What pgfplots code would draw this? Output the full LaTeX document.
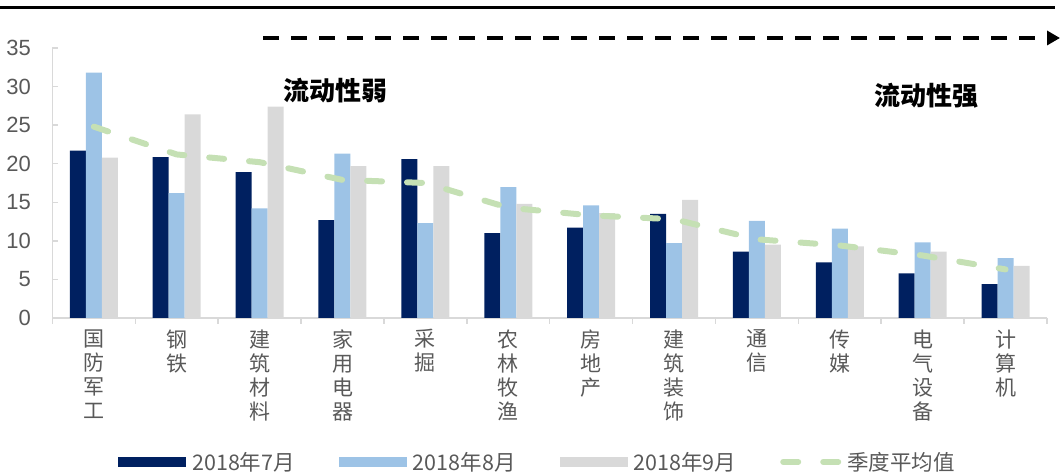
\documentclass[border=0pt]{standalone}
\usepackage{fontspec}
\usepackage{pgfplots}
\usepackage{pgfplotstable}
\pgfplotsset{compat=1.18}
\usetikzlibrary{arrows.meta}
\setmainfont{Liberation Sans}
\newfontfamily\cjk{Noto Sans CJK SC}
\definecolor{navy}{HTML}{002060}
\definecolor{lblue}{HTML}{9DC3E6}
\definecolor{lgrey}{HTML}{D9D9D9}
\definecolor{lgreen}{HTML}{C5E0B4}
\definecolor{axgrey}{HTML}{D9D9D9}
\definecolor{txtgrey}{HTML}{595959}

\pgfplotstableread{
x jul aug sep avg
0 21.7 31.8 20.8 24.8
1 20.85 16.2 26.4 21.2
2 18.9 14.2 27.4 20.2
3 12.7 21.3 19.7 17.9
4 20.6 12.3 19.7 17.5
5 11.0 16.95 14.8 14.3
6 11.7 14.6 13.6 13.3
7 13.5 9.7 15.3 12.8
8 8.6 12.6 9.5 10.2
9 7.2 11.6 9.3 9.4
10 5.8 9.8 8.6 8.1
11 4.4 7.75 6.75 6.3
}\data

\begin{document}
\begin{tikzpicture}[x=1pt,y=1pt]
\path[use as bounding box] (0,0) rectangle (1060,473);
\draw[line width=3pt] (0,465.6) -- (1055,465.6);
\draw[line width=4pt, dash pattern=on 16pt off 12pt, -{Triangle[length=13pt,width=14pt]}] (263,435) -- (1060,435);
\node[font=\cjk\bfseries\fontsize{26}{30}\selectfont] at (335,382) {流动性弱};
\node[font=\cjk\bfseries\fontsize{26}{30}\selectfont] at (926,377) {流动性强};
\begin{axis}[
  at={(52.4pt,155pt)}, anchor=south west,
  width=994.6pt, height=270pt, scale only axis,
  xmin=-0.5, xmax=11.5, ymin=0, ymax=35,
  axis x line*=bottom, axis y line*=left,
  axis line style={-, draw=axgrey, line width=1.5pt},
  tick align=outside, major tick length=6pt,
  ytick={0,5,...,35},
  ytick style={draw=axgrey, line width=1.5pt, xshift=6pt},
  xtick={-0.5,0.5,...,11.5},
  xtick style={draw=axgrey, line width=1.5pt},
  xticklabels={{国\\防\\军\\工},{钢\\铁},{建\\筑\\材\\料},{家\\用\\电\\器},{采\\掘},{农\\林\\牧\\渔},{房\\地\\产},{建\\筑\\装\\饰},{通\\信},{传\\媒},{电\\气\\设\\备},{计\\算\\机},{}},
  xticklabel style={align=center, anchor=north, font=\cjk\fontsize{21}{24}\selectfont, text=txtgrey, xshift=41.45pt, yshift=-2pt},
  yticklabel style={font=\fontsize{22}{26}\selectfont, text=txtgrey, xshift=-12pt},
  /pgf/number format/assume math mode=true,
  clip=false,
  legend columns=4,
  legend style={at={(0.066,-0.533)}, anchor=west, draw=none, fill=none, inner xsep=0pt,
    font=\cjk\fontsize{21.5}{24}\selectfont, text=txtgrey,
    /tikz/every odd column/.append style={column sep=4pt},
    /tikz/every even column/.append style={column sep=42pt}},
  legend cell align=left,
]
\addplot[ybar, bar width=16pt, bar shift=-16pt, fill=navy, draw=none,
  legend image code/.code={\fill[navy] (0pt,-5pt) rectangle (68pt,5pt);}] table[x=x,y=jul]{\data};
\addlegendentry{2018年7月}
\addplot[ybar, bar width=16pt, bar shift=0pt, fill=lblue, draw=none,
  legend image code/.code={\fill[lblue] (0pt,-5pt) rectangle (68pt,5pt);}] table[x=x,y=aug]{\data};
\addlegendentry{2018年8月}
\addplot[ybar, bar width=16pt, bar shift=16pt, fill=lgrey, draw=none,
  legend image code/.code={\fill[lgrey] (0pt,-5pt) rectangle (68pt,5pt);}] table[x=x,y=sep]{\data};
\addlegendentry{2018年9月}
\addplot[sharp plot, no marks, draw=lgreen, line width=6pt, line cap=round, dash pattern=on 15pt off 25pt,
  legend image code/.code={\draw[lgreen, line width=6pt, line cap=round, dash pattern=on 15pt off 25pt] (3pt,0pt) -- (58pt,0pt);}] table[x=x,y=avg]{\data};
\addlegendentry{季度平均值}
\end{axis}
\end{tikzpicture}
\end{document}
